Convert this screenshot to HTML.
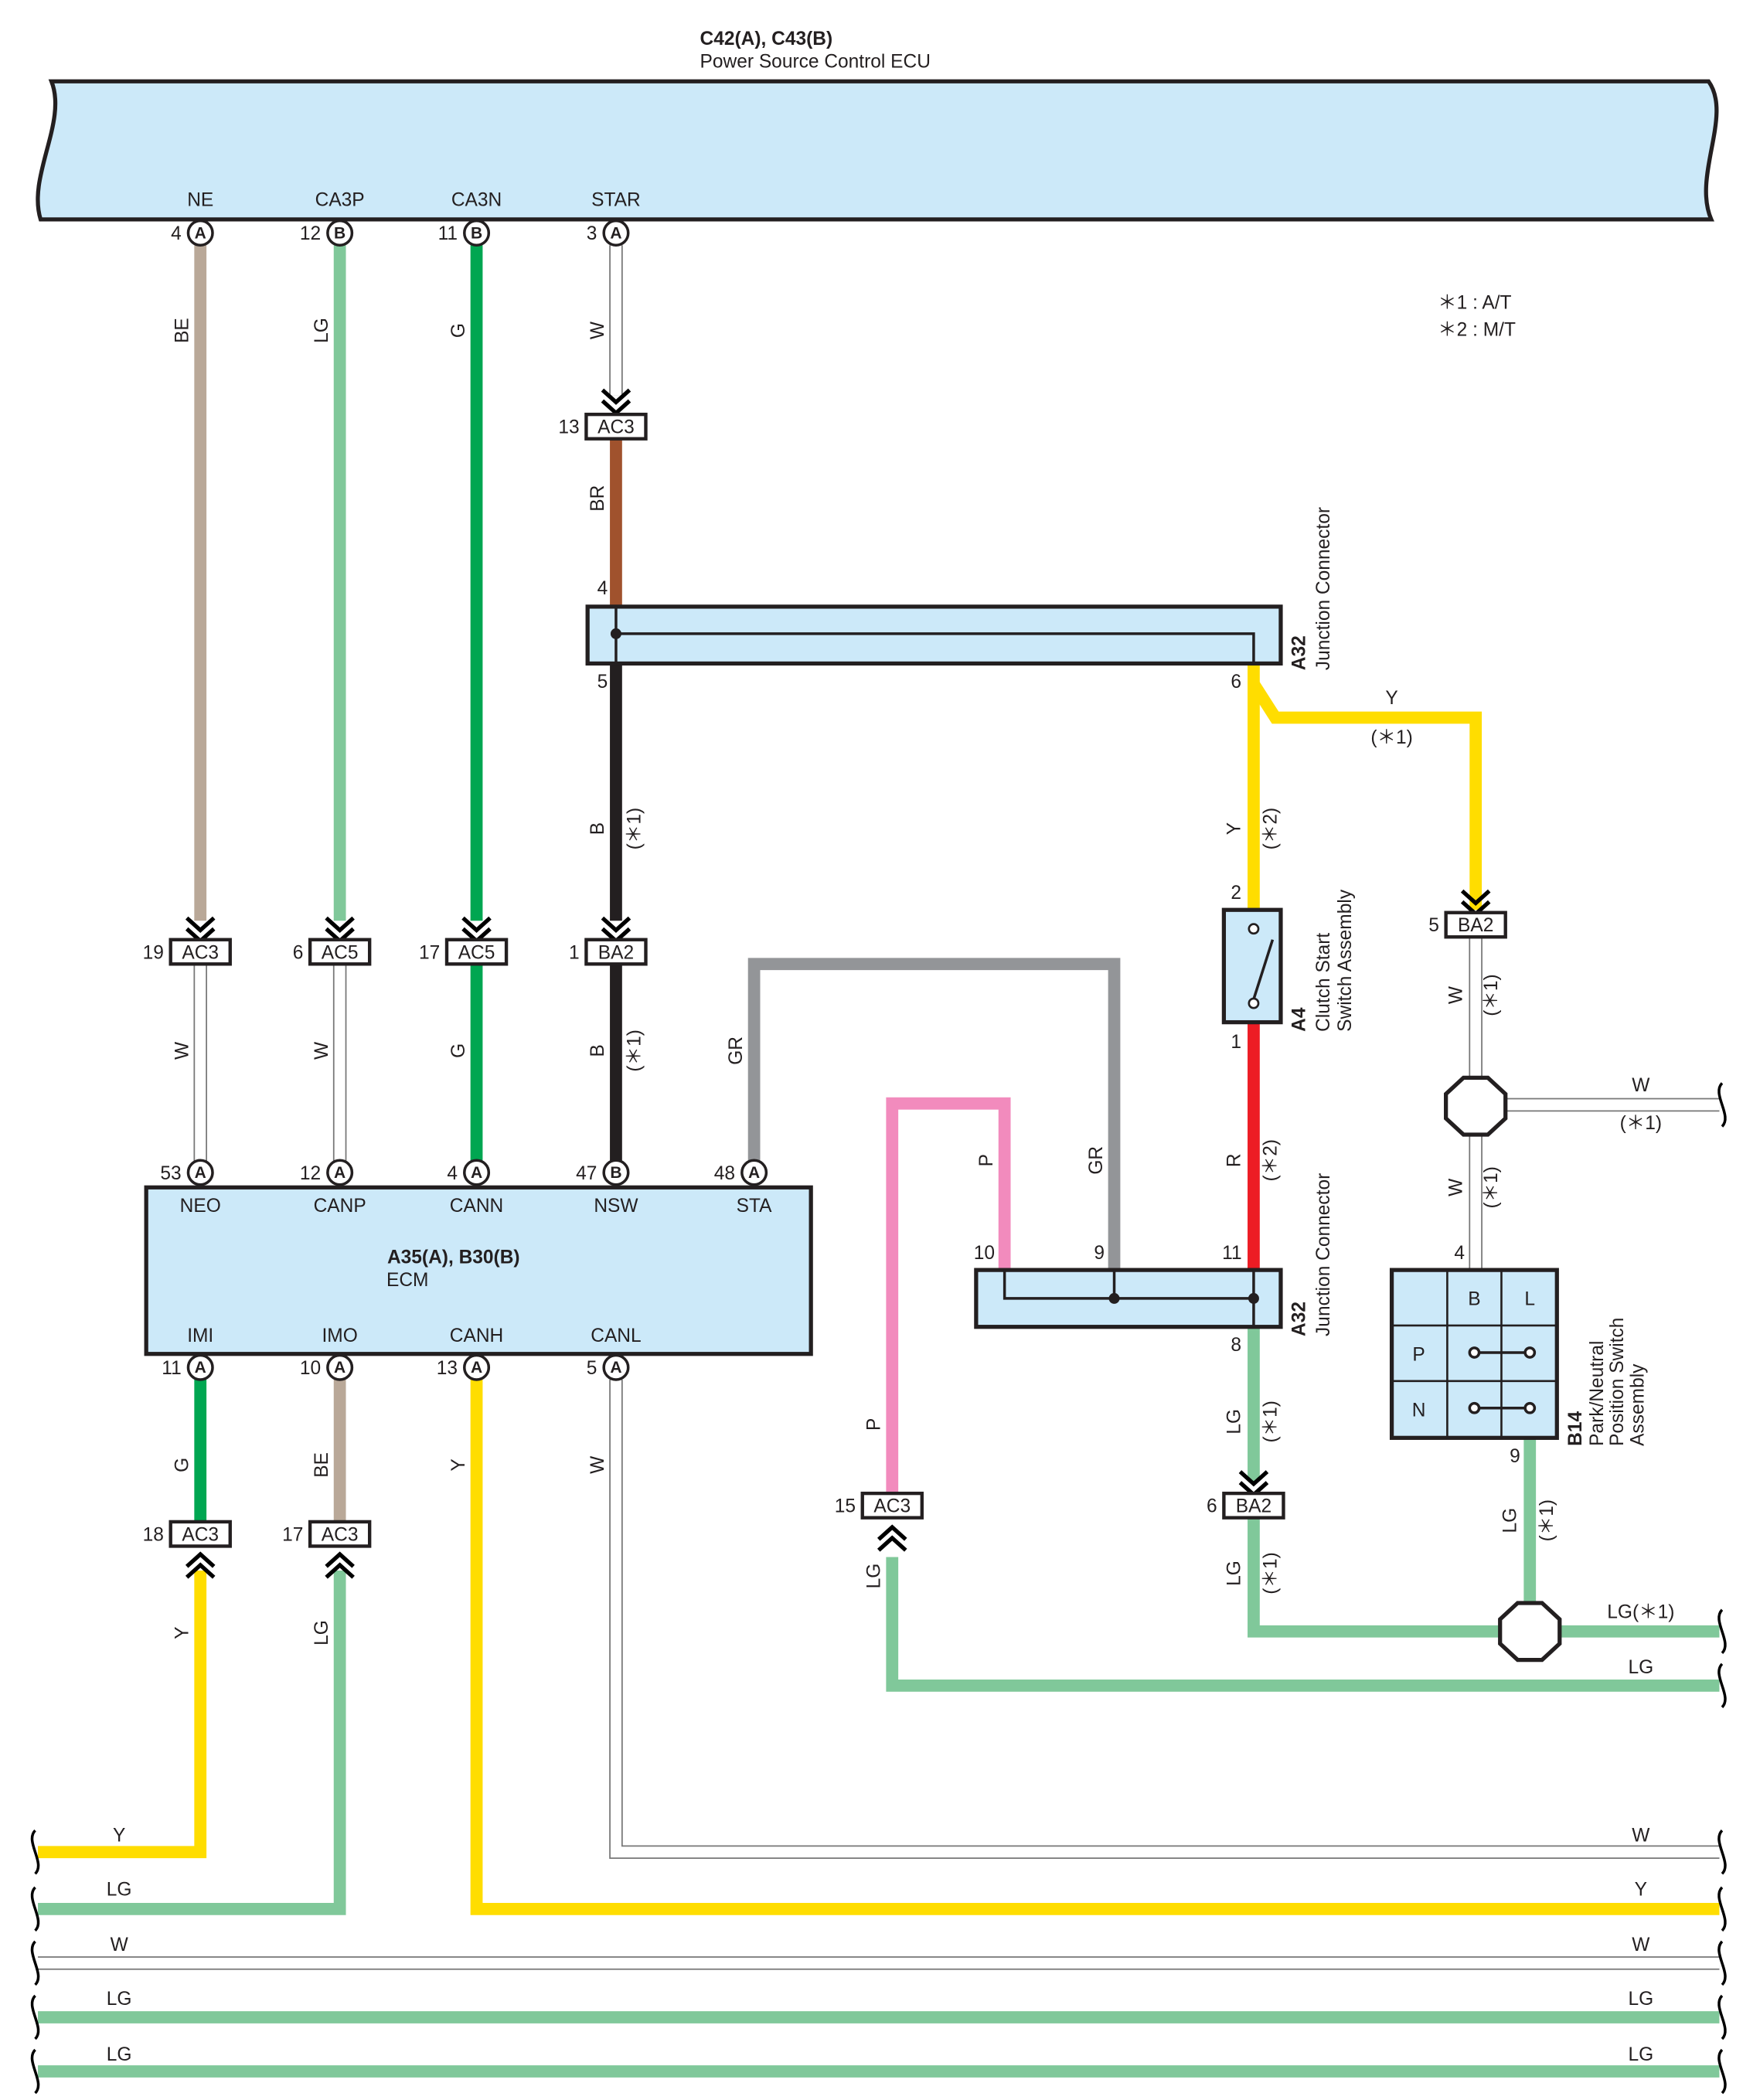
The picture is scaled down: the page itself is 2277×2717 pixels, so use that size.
<!DOCTYPE html>
<html><head><meta charset="utf-8"><style>
html,body{margin:0;padding:0;background:#fff}
svg{display:block}
text{font-family:"Liberation Sans",Arial,sans-serif;font-size:14px;fill:#231f20}
.c{text-anchor:middle}
.r{text-anchor:end}
.pl{font-size:12px;font-weight:bold;text-anchor:middle}
.b{font-weight:bold}
</style></head><body>
<svg width="2277" height="2717" viewBox="0 0 1300 1551" xmlns="http://www.w3.org/2000/svg">
<defs>
<g id="chd"><polyline points="-10,-12 0,-3 10,-12" fill="none" stroke="#000" stroke-width="3"/><polyline points="-10,-4 0,5 10,-4" fill="none" stroke="#000" stroke-width="3"/></g>
<g id="chu"><polyline points="-10,12 0,3 10,12" fill="none" stroke="#000" stroke-width="3"/><polyline points="-10,4 0,-5 10,4" fill="none" stroke="#000" stroke-width="3"/></g>
<path id="wv" d="M0,-16 C-8,-8 8,8 0,16" fill="none" stroke="#000" stroke-width="2"/>
</defs>

<!-- Title -->
<text x="517" y="33" class="b">C42(A), C43(B)</text>
<text x="517" y="50">Power Source Control ECU</text>
<!-- ECU box -->
<path d="M38,60 L1262,60 C1280,85 1250,130 1264,162 L30,162 C20,130 50,90 38,60 Z" fill="#cce9f9" stroke="#231f20" stroke-width="3"/>
<text x="148" y="152" class="c">NE</text><text x="251" y="152" class="c">CA3P</text><text x="352" y="152" class="c">CA3N</text><text x="455" y="152" class="c">STAR</text>
<text x="1062" y="228">＊1 : A/T</text><text x="1062" y="248">＊2 : M/T</text>

<!-- Wires -->
<g fill="none" stroke-linejoin="miter">
<!-- BE NE -->
<line x1="148" y1="181" x2="148" y2="680" stroke="#b9a898" stroke-width="9"/>
<line x1="251" y1="181" x2="251" y2="680" stroke="#80c89a" stroke-width="9"/>
<line x1="352" y1="181" x2="352" y2="680" stroke="#00a651" stroke-width="9"/>
<!-- STAR W -->
<line x1="455" y1="181" x2="455" y2="292" stroke="#777" stroke-width="10"/><line x1="455" y1="181" x2="455" y2="292" stroke="#fff" stroke-width="8"/>
<line x1="455" y1="324" x2="455" y2="448" stroke="#a0522d" stroke-width="9"/>
<line x1="455" y1="490" x2="455" y2="680" stroke="#231f20" stroke-width="9"/>
<!-- Y from A32 pin6 -->
<line x1="926" y1="490" x2="926" y2="672" stroke="#ffdd00" stroke-width="9"/>
<polyline points="926,505 942,530 1090,530 1090,672" stroke="#ffdd00" stroke-width="9"/>
<!-- W lower conns -->
<line x1="148" y1="712" x2="148" y2="858" stroke="#777" stroke-width="10"/><line x1="148" y1="712" x2="148" y2="858" stroke="#fff" stroke-width="8"/>
<line x1="251" y1="712" x2="251" y2="858" stroke="#777" stroke-width="10"/><line x1="251" y1="712" x2="251" y2="858" stroke="#fff" stroke-width="8"/>
<line x1="352" y1="712" x2="352" y2="858" stroke="#00a651" stroke-width="9"/>
<line x1="455" y1="712" x2="455" y2="858" stroke="#231f20" stroke-width="9"/>
<!-- GR -->
<polyline points="557,858 557,712 823,712 823,938" stroke="#939598" stroke-width="9"/>
<!-- P -->
<polyline points="659,1103 659,815 742,815 742,938" stroke="#f28bbd" stroke-width="9"/>
<!-- R -->
<line x1="926" y1="755" x2="926" y2="938" stroke="#ed1c24" stroke-width="9"/>
<!-- LG from A32 pin 8 -->
<line x1="926" y1="980" x2="926" y2="1094" stroke="#80c89a" stroke-width="9"/>
<polyline points="926,1121 926,1205 1270,1205" stroke="#80c89a" stroke-width="9"/>
<line x1="1130" y1="1062" x2="1130" y2="1185" stroke="#80c89a" stroke-width="9"/>
<!-- W BA2 to B14 -->
<line x1="1090" y1="692" x2="1090" y2="938" stroke="#777" stroke-width="10"/><line x1="1090" y1="692" x2="1090" y2="938" stroke="#fff" stroke-width="8"/>
<line x1="1110" y1="816" x2="1270" y2="816" stroke="#777" stroke-width="10"/><line x1="1110" y1="816" x2="1270" y2="816" stroke="#fff" stroke-width="8"/>
<!-- lower ECM -->
<line x1="148" y1="1019" x2="148" y2="1124" stroke="#00a651" stroke-width="9"/>
<line x1="251" y1="1019" x2="251" y2="1124" stroke="#b9a898" stroke-width="9"/>
<polyline points="148,1160 148,1368 28,1368" stroke="#ffdd00" stroke-width="9"/>
<polyline points="251,1160 251,1410 28,1410" stroke="#80c89a" stroke-width="9"/>
<polyline points="352,1019 352,1410 1270,1410" stroke="#ffdd00" stroke-width="9"/>
<polyline points="455,1019 455,1368 1270,1368" stroke="#777" stroke-width="10"/><polyline points="455,1019 455,1368 1270,1368" stroke="#fff" stroke-width="8"/>
<polyline points="659,1150 659,1245 1270,1245" stroke="#80c89a" stroke-width="9"/>
<line x1="28" y1="1450" x2="1270" y2="1450" stroke="#777" stroke-width="10"/><line x1="28" y1="1450" x2="1270" y2="1450" stroke="#fff" stroke-width="8"/>
<line x1="28" y1="1490" x2="1270" y2="1490" stroke="#80c89a" stroke-width="9"/>
<line x1="28" y1="1530" x2="1270" y2="1530" stroke="#80c89a" stroke-width="9"/>
</g>

<!-- wavy ends -->
<use href="#wv" x="1272" y="816"/><use href="#wv" x="1272" y="1205"/><use href="#wv" x="1272" y="1245"/>
<use href="#wv" x="1272" y="1368"/><use href="#wv" x="1272" y="1410"/><use href="#wv" x="1272" y="1450"/><use href="#wv" x="1272" y="1490"/><use href="#wv" x="1272" y="1530"/>
<use href="#wv" x="26" y="1368"/><use href="#wv" x="26" y="1410"/><use href="#wv" x="26" y="1450"/><use href="#wv" x="26" y="1490"/><use href="#wv" x="26" y="1530"/>

<!-- chevrons -->
<use href="#chd" x="455" y="300"/>
<use href="#chd" x="148" y="690"/><use href="#chd" x="251" y="690"/><use href="#chd" x="352" y="690"/><use href="#chd" x="455" y="690"/>
<use href="#chd" x="1090" y="670"/><use href="#chd" x="926" y="1099"/>
<use href="#chu" x="148" y="1153"/><use href="#chu" x="251" y="1153"/><use href="#chu" x="659" y="1133"/>

<!-- A32 top -->
<rect x="434" y="448" width="512" height="42" fill="#cce9f9" stroke="#231f20" stroke-width="3"/>
<polyline points="455,448 455,468 926,468 926,490" fill="none" stroke="#231f20" stroke-width="2"/>
<line x1="455" y1="468" x2="455" y2="490" stroke="#231f20" stroke-width="2"/>
<circle cx="455" cy="468" r="4" fill="#231f20"/>
<text x="445" y="439" class="c">4</text><text x="445" y="508" class="c">5</text><text x="913" y="508" class="c">6</text>
<text transform="translate(964,495) rotate(-90)" class="b">A32</text>
<text transform="translate(982,495) rotate(-90)">Junction Connector</text>

<!-- A32 bottom -->
<rect x="721" y="938" width="225" height="42" fill="#cce9f9" stroke="#231f20" stroke-width="3"/>
<polyline points="742,938 742,959 926,959" fill="none" stroke="#231f20" stroke-width="2"/>
<line x1="823" y1="938" x2="823" y2="959" stroke="#231f20" stroke-width="2"/>
<line x1="926" y1="938" x2="926" y2="980" stroke="#231f20" stroke-width="2"/>
<circle cx="823" cy="959" r="4" fill="#231f20"/><circle cx="926" cy="959" r="4" fill="#231f20"/>
<text x="727" y="930" class="c">10</text><text x="812" y="930" class="c">9</text><text x="910" y="930" class="c">11</text><text x="913" y="998" class="c">8</text>
<text transform="translate(964,987) rotate(-90)" class="b">A32</text>
<text transform="translate(982,987) rotate(-90)">Junction Connector</text>

<!-- A4 switch -->
<rect x="904" y="672" width="42" height="83" fill="#cce9f9" stroke="#231f20" stroke-width="3"/>
<circle cx="926" cy="686" r="3.5" fill="#fff" stroke="#231f20" stroke-width="1.5"/>
<circle cx="926" cy="741" r="3.5" fill="#fff" stroke="#231f20" stroke-width="1.5"/>
<line x1="926" y1="738" x2="940" y2="694" stroke="#231f20" stroke-width="2"/>
<text x="913" y="664" class="c">2</text><text x="913" y="774" class="c">1</text>
<text transform="translate(964,762) rotate(-90)" class="b">A4</text>
<text transform="translate(982,762) rotate(-90)">Clutch Start</text>
<text transform="translate(998,762) rotate(-90)">Switch Assembly</text>

<!-- B14 -->
<rect x="1028" y="938" width="122" height="124" fill="#cce9f9" stroke="#231f20" stroke-width="3"/>
<g stroke="#231f20" stroke-width="1.5"><line x1="1069" y1="938" x2="1069" y2="1062"/><line x1="1109" y1="938" x2="1109" y2="1062"/><line x1="1028" y1="979" x2="1150" y2="979"/><line x1="1028" y1="1020" x2="1150" y2="1020"/></g>
<text x="1089" y="964" class="c">B</text><text x="1130" y="964" class="c">L</text><text x="1048" y="1005" class="c">P</text><text x="1048" y="1046" class="c">N</text>
<g stroke="#231f20" stroke-width="2" fill="#fff"><line x1="1089" y1="999" x2="1130" y2="999"/><line x1="1089" y1="1040" x2="1130" y2="1040"/><circle cx="1089" cy="999" r="3.5"/><circle cx="1130" cy="999" r="3.5"/><circle cx="1089" cy="1040" r="3.5"/><circle cx="1130" cy="1040" r="3.5"/></g>
<text x="1078" y="930" class="c">4</text><text x="1119" y="1080" class="c">9</text>
<text transform="translate(1168,1068) rotate(-90)" class="b">B14</text>
<text transform="translate(1184,1068) rotate(-90)">Park/Neutral</text>
<text transform="translate(1199,1068) rotate(-90)">Position Switch</text>
<text transform="translate(1214,1068) rotate(-90)">Assembly</text>

<!-- splices -->
<polygon points="1081,796 1099,796 1112,808 1112,826 1099,838 1081,838 1068,826 1068,808" fill="#fff" stroke="#231f20" stroke-width="3"/>
<polygon points="1121,1184 1139,1184 1152,1196 1152,1214 1139,1226 1121,1226 1108,1214 1108,1196" fill="#fff" stroke="#231f20" stroke-width="3"/>

<!-- ECM -->
<rect x="108" y="877" width="491" height="123" fill="#cce9f9" stroke="#231f20" stroke-width="3"/>
<text x="148" y="895" class="c">NEO</text><text x="251" y="895" class="c">CANP</text><text x="352" y="895" class="c">CANN</text><text x="455" y="895" class="c">NSW</text><text x="557" y="895" class="c">STA</text>
<text x="335" y="933" class="c b">A35(A), B30(B)</text><text x="301" y="950" class="c">ECM</text>
<text x="148" y="991" class="c">IMI</text><text x="251" y="991" class="c">IMO</text><text x="352" y="991" class="c">CANH</text><text x="455" y="991" class="c">CANL</text>

<!-- pins -->
<g stroke="#231f20" stroke-width="2" fill="#fff">
<circle cx="148" cy="172" r="9"/><circle cx="251" cy="172" r="9"/><circle cx="352" cy="172" r="9"/><circle cx="455" cy="172" r="9"/>
<circle cx="148" cy="866" r="9"/><circle cx="251" cy="866" r="9"/><circle cx="352" cy="866" r="9"/><circle cx="455" cy="866" r="9"/><circle cx="557" cy="866" r="9"/>
<circle cx="148" cy="1010" r="9"/><circle cx="251" cy="1010" r="9"/><circle cx="352" cy="1010" r="9"/><circle cx="455" cy="1010" r="9"/>
</g>
<text x="148" y="176" class="pl">A</text><text x="251" y="176" class="pl">B</text><text x="352" y="176" class="pl">B</text><text x="455" y="176" class="pl">A</text>
<text x="148" y="870" class="pl">A</text><text x="251" y="870" class="pl">A</text><text x="352" y="870" class="pl">A</text><text x="455" y="870" class="pl">B</text><text x="557" y="870" class="pl">A</text>
<text x="148" y="1014" class="pl">A</text><text x="251" y="1014" class="pl">A</text><text x="352" y="1014" class="pl">A</text><text x="455" y="1014" class="pl">A</text>
<text x="134" y="177" class="r">4</text><text x="237" y="177" class="r">12</text><text x="338" y="177" class="r">11</text><text x="441" y="177" class="r">3</text>
<text x="134" y="871" class="r">53</text><text x="237" y="871" class="r">12</text><text x="338" y="871" class="r">4</text><text x="441" y="871" class="r">47</text><text x="543" y="871" class="r">48</text>
<text x="134" y="1015" class="r">11</text><text x="237" y="1015" class="r">10</text><text x="338" y="1015" class="r">13</text><text x="441" y="1015" class="r">5</text>

<!-- connector boxes -->
<g fill="#fff" stroke="#231f20" stroke-width="2.5">
<rect x="433" y="306" width="44" height="18"/>
<rect x="126" y="694" width="44" height="18"/><rect x="229" y="694" width="44" height="18"/><rect x="330" y="694" width="44" height="18"/><rect x="433" y="694" width="44" height="18"/>
<rect x="1068" y="674" width="44" height="18"/><rect x="904" y="1103" width="44" height="18"/>
<rect x="126" y="1124" width="44" height="18"/><rect x="229" y="1124" width="44" height="18"/><rect x="637" y="1103" width="44" height="18"/>
</g>
<text x="455" y="320" class="c">AC3</text><text x="428" y="320" class="r">13</text>
<text x="148" y="708" class="c">AC3</text><text x="121" y="708" class="r">19</text>
<text x="251" y="708" class="c">AC5</text><text x="224" y="708" class="r">6</text>
<text x="352" y="708" class="c">AC5</text><text x="325" y="708" class="r">17</text>
<text x="455" y="708" class="c">BA2</text><text x="428" y="708" class="r">1</text>
<text x="1090" y="688" class="c">BA2</text><text x="1063" y="688" class="r">5</text>
<text x="926" y="1117" class="c">BA2</text><text x="899" y="1117" class="r">6</text>
<text x="148" y="1138" class="c">AC3</text><text x="121" y="1138" class="r">18</text>
<text x="251" y="1138" class="c">AC3</text><text x="224" y="1138" class="r">17</text>
<text x="659" y="1117" class="c">AC3</text><text x="632" y="1117" class="r">15</text>

<!-- wire labels (rotated) -->
<g>
<text transform="translate(139,244) rotate(-90)" class="c">BE</text>
<text transform="translate(242,244) rotate(-90)" class="c">LG</text>
<text transform="translate(343,244) rotate(-90)" class="c">G</text>
<text transform="translate(446,244) rotate(-90)" class="c">W</text>
<text transform="translate(446,368) rotate(-90)" class="c">BR</text>
<text transform="translate(446,612) rotate(-90)" class="c">B</text>
<text transform="translate(473,612) rotate(-90)" class="c">(＊1)</text>
<text transform="translate(916,612) rotate(-90)" class="c">Y</text>
<text transform="translate(943,612) rotate(-90)" class="c">(＊2)</text>
<text transform="translate(139,776) rotate(-90)" class="c">W</text>
<text transform="translate(242,776) rotate(-90)" class="c">W</text>
<text transform="translate(343,776) rotate(-90)" class="c">G</text>
<text transform="translate(446,776) rotate(-90)" class="c">B</text>
<text transform="translate(473,776) rotate(-90)" class="c">(＊1)</text>
<text transform="translate(548,776) rotate(-90)" class="c">GR</text>
<text transform="translate(733,857) rotate(-90)" class="c">P</text>
<text transform="translate(814,857) rotate(-90)" class="c">GR</text>
<text transform="translate(916,857) rotate(-90)" class="c">R</text>
<text transform="translate(943,857) rotate(-90)" class="c">(＊2)</text>
<text transform="translate(1080,735) rotate(-90)" class="c">W</text>
<text transform="translate(1106,735) rotate(-90)" class="c">(＊1)</text>
<text transform="translate(1080,877) rotate(-90)" class="c">W</text>
<text transform="translate(1106,877) rotate(-90)" class="c">(＊1)</text>
<text transform="translate(916,1050) rotate(-90)" class="c">LG</text>
<text transform="translate(943,1050) rotate(-90)" class="c">(＊1)</text>
<text transform="translate(916,1162) rotate(-90)" class="c">LG</text>
<text transform="translate(943,1162) rotate(-90)" class="c">(＊1)</text>
<text transform="translate(1120,1123) rotate(-90)" class="c">LG</text>
<text transform="translate(1147,1123) rotate(-90)" class="c">(＊1)</text>
<text transform="translate(139,1082) rotate(-90)" class="c">G</text>
<text transform="translate(242,1082) rotate(-90)" class="c">BE</text>
<text transform="translate(343,1082) rotate(-90)" class="c">Y</text>
<text transform="translate(446,1082) rotate(-90)" class="c">W</text>
<text transform="translate(650,1052) rotate(-90)" class="c">P</text>
<text transform="translate(650,1164) rotate(-90)" class="c">LG</text>
<text transform="translate(139,1206) rotate(-90)" class="c">Y</text>
<text transform="translate(242,1206) rotate(-90)" class="c">LG</text>
</g>

<!-- horizontal labels -->
<text x="1028" y="520" class="c">Y</text><text x="1028" y="549" class="c">(＊1)</text>
<text x="1212" y="806" class="c">W</text><text x="1212" y="834" class="c">(＊1)</text>
<text x="1212" y="1195" class="c">LG(＊1)</text>
<text x="1212" y="1236" class="c">LG</text>
<text x="88" y="1360" class="c">Y</text><text x="1212" y="1360" class="c">W</text>
<text x="88" y="1400" class="c">LG</text><text x="1212" y="1400" class="c">Y</text>
<text x="88" y="1441" class="c">W</text><text x="1212" y="1441" class="c">W</text>
<text x="88" y="1481" class="c">LG</text><text x="1212" y="1481" class="c">LG</text>
<text x="88" y="1522" class="c">LG</text><text x="1212" y="1522" class="c">LG</text>
</svg>
</body></html>
